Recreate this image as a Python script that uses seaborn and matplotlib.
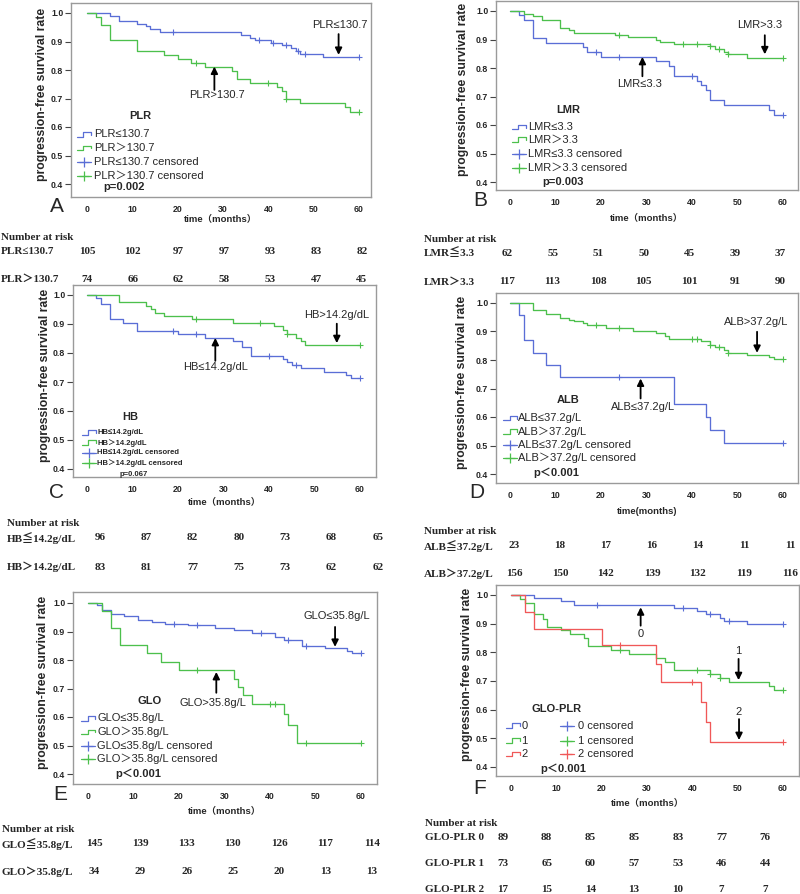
import numpy as np
import pandas as pd
import matplotlib
matplotlib.use("Agg")
import matplotlib.pyplot as plt
import seaborn as sns

# ---- survival curves: event times, survival after event, censor times ----
# A  PLR
plr_lo_t = [5, 7, 11, 13, 14, 16, 34, 36, 37, 40.5, 43, 45, 46, 47, 52]
plr_lo_s = [0.990, 0.973, 0.962, 0.953, 0.944, 0.933, 0.924, 0.914, 0.904, 0.895, 0.886, 0.876, 0.867, 0.856, 0.844]
plr_lo_c = [19, 38, 41, 44, 46.5, 48, 60]
plr_hi_t = [2, 3, 5, 11, 17, 20, 23, 26, 32, 33, 36, 42, 43, 44, 47, 57, 58]
plr_hi_s = [0.986, 0.959, 0.905, 0.865, 0.851, 0.838, 0.824, 0.811, 0.797, 0.770, 0.756, 0.742, 0.728, 0.700, 0.684, 0.669, 0.654]
plr_hi_c = [24, 40, 44, 60]
# B  LMR
lmr_lo_t = [2, 3, 5, 8, 16, 17, 20, 32, 35, 36, 41, 42, 43, 44, 47, 57, 58]
lmr_lo_s = [0.985, 0.970, 0.905, 0.889, 0.872, 0.856, 0.839, 0.823, 0.807, 0.771, 0.755, 0.739, 0.722, 0.687, 0.670, 0.652, 0.635]
lmr_lo_c = [19, 24, 40, 60]
lmr_hi_t = [3, 5, 7, 11, 13, 14, 23, 26, 32, 33, 36, 44, 45, 47, 48, 52]
lmr_hi_s = [0.991, 0.983, 0.967, 0.942, 0.932, 0.924, 0.917, 0.909, 0.900, 0.891, 0.884, 0.876, 0.866, 0.857, 0.850, 0.836]
lmr_hi_c = [24, 38, 41, 44, 46, 48, 60]
# C  HB
hb_lo_t = [2, 3, 5, 8, 11, 20, 26, 32, 34, 36, 43, 44, 45, 47, 52, 57, 58]
hb_lo_s = [0.990, 0.969, 0.916, 0.905, 0.875, 0.864, 0.853, 0.842, 0.822, 0.789, 0.779, 0.768, 0.758, 0.748, 0.736, 0.725, 0.713]
hb_lo_c = [19, 24, 40, 46, 60]
hb_hi_t = [7, 13, 14, 15, 17, 23, 32, 41, 43, 44, 46, 47, 48]
hb_hi_s = [0.976, 0.963, 0.951, 0.939, 0.927, 0.916, 0.904, 0.892, 0.879, 0.866, 0.853, 0.841, 0.828]
hb_hi_c = [24, 38, 44, 60]
# D  ALB
alb_lo_t = [2, 3, 5, 8, 11, 36, 43, 44, 47]
alb_lo_s = [0.957, 0.870, 0.826, 0.783, 0.739, 0.647, 0.601, 0.555, 0.508]
alb_lo_c = [24, 60]
alb_hi_t = [5, 8, 11, 13, 14, 16, 17, 21, 27, 32, 34, 35, 42, 44, 45, 47, 48, 52, 57, 58]
alb_hi_s = [0.974, 0.962, 0.949, 0.942, 0.936, 0.929, 0.922, 0.912, 0.902, 0.893, 0.884, 0.874, 0.865, 0.852, 0.846, 0.834, 0.823, 0.817, 0.810, 0.803]
alb_hi_c = [19, 24, 40, 41, 44, 46, 48, 60]
# E  GLO
glo_lo_t = [2, 3, 5, 8, 11, 14, 17, 22, 28, 32, 36, 41, 43, 47, 52, 57, 58]
glo_lo_s = [0.993, 0.977, 0.963, 0.956, 0.942, 0.934, 0.925, 0.922, 0.914, 0.907, 0.893, 0.881, 0.869, 0.850, 0.843, 0.831, 0.825]
glo_lo_c = [19, 24, 38, 44, 48, 60]
glo_hi_t = [3, 5, 7, 13, 16, 20, 32, 33, 34, 36, 43, 44, 46]
glo_hi_s = [0.971, 0.912, 0.853, 0.824, 0.794, 0.765, 0.735, 0.706, 0.676, 0.647, 0.610, 0.573, 0.508]
glo_hi_c = [24, 40, 41, 48, 60]
# F  GLO-PLR
g0_t = [5, 11, 14, 36, 41, 43, 46, 47, 52]
g0_s = [0.989, 0.978, 0.966, 0.955, 0.944, 0.933, 0.921, 0.910, 0.899]
g0_c = [19, 38, 44, 48, 60]
g1_t = [2, 3, 5, 7, 8, 11, 13, 16, 17, 22, 26, 32, 34, 36, 44, 46, 48, 57, 58]
g1_s = [0.986, 0.973, 0.932, 0.918, 0.890, 0.877, 0.863, 0.849, 0.822, 0.808, 0.795, 0.781, 0.767, 0.740, 0.726, 0.712, 0.698, 0.683, 0.667]
g1_c = [24, 41, 44, 46, 60]
g2_t = [3, 5, 20, 32, 33, 42, 43, 44]
g2_s = [0.941, 0.882, 0.824, 0.760, 0.697, 0.627, 0.557, 0.488]
g2_c = [24, 40, 60]

# ---- number at risk ----
risk_a = [[105, 102, 97, 97, 93, 83, 82], [74, 66, 62, 58, 53, 47, 45]]
risk_b = [[62, 55, 51, 50, 45, 39, 37], [117, 113, 108, 105, 101, 91, 90]]
risk_c = [[96, 87, 82, 80, 73, 68, 65], [83, 81, 77, 75, 73, 62, 62]]
risk_d = [[23, 18, 17, 16, 14, 11, 11], [156, 150, 142, 139, 132, 119, 116]]
risk_e = [[145, 139, 133, 130, 126, 117, 114], [34, 29, 26, 25, 20, 13, 13]]
risk_f = [[89, 88, 85, 85, 83, 77, 76], [73, 65, 60, 57, 53, 46, 44], [17, 15, 14, 13, 10, 7, 7]]

x_ticks = [0, 10, 20, 30, 40, 50, 60]
y_ticks = [0.4, 0.5, 0.6, 0.7, 0.8, 0.9, 1.0]

sns.set_style("white")
SANS = ['Liberation Sans', 'Noto Sans CJK SC', 'DejaVu Sans']
SERIF = ['Liberation Serif', 'Noto Sans CJK SC', 'DejaVu Serif']
plt.rcParams['font.family'] = SANS

BLUE = '#5a6ed6'
GREEN = '#4cc04c'
RED = '#f05858'

W, H = 800, 894
fig = plt.figure(figsize=(8, 8.94), dpi=100)
fig.patch.set_facecolor('white')


def px_axes(box, xt, yt):
    L, T, R, B = box
    ax = fig.add_axes([L / W, 1 - B / H, (R - L) / W, (B - T) / H])
    kx = (xt[1] - xt[0]) / 60
    ax.set_xlim(-(xt[0] - L) / kx, 60 + (R - xt[1]) / kx)
    ky = (yt[1] - yt[0]) / 0.6
    ax.set_ylim(0.4 - (B - yt[1]) / ky, 1.0 + (yt[0] - T) / ky)
    return ax


def km_curve(ax, t, s, c, col):
    df = pd.DataFrame({'time': [0] + list(t) + [60], 'surv': [1.0] + list(s) + [s[-1]]})
    sns.lineplot(data=df, x='time', y='surv', drawstyle='steps-post', color=col,
                 lw=0.95, ax=ax, estimator=None, sort=False, legend=False)
    idx = np.searchsorted(t, c, side='right')
    cy = np.concatenate([[1.0], s])[idx]
    sns.scatterplot(x=c, y=cy, marker='+', s=14, color=col, linewidth=0.8,
                    ax=ax, legend=False, zorder=3)


def legend_entry(ax, x0, y, col, kind, w=3.1):
    if kind == 'line':
        ax.plot([x0, x0 + 0.45 * w, x0 + 0.45 * w, x0 + w, x0 + w],
                [y - 0.008, y - 0.008, y + 0.008, y + 0.008, y - 0.002], color=col, lw=0.9)
    else:
        ax.plot([x0, x0 + w], [y, y], color=col, lw=0.9)
        ax.plot([x0 + w / 2], [y], marker='+', ms=7, mew=0.9, color=col)


panels = [
    dict(box=(71, 3, 371, 197), xt=(87, 359), yt=(13, 184), ylo=29, xlo=23, letter=('A', 57, 207),
         xlabel='time（months）',
         curves=[(plr_lo_t, plr_lo_s, plr_lo_c, BLUE), (plr_hi_t, plr_hi_s, plr_hi_c, GREEN)],
         arrows=[('PLR≤130.7', (55.8, 0.959), (55.5, 0.926), (55.5, 0.853)),
                 ('PLR>130.7', (28.6, 0.713), (28.1, 0.730), (28.1, 0.812))],
         title=('PLR', 11.7, 0.637), p=('p=0.002', 8.1, 0.39), fs=8, ix=-2.2, tx=1.5,
         rows=[0.574, 0.527, 0.478, 0.429],
         labels=['PLR≤130.7', 'PLR＞130.7', 'PLR≤130.7 censored', 'PLR＞130.7 censored'],
         risk=risk_a, rlab=['PLR≤130.7', 'PLR＞130.7'], rx=1, rhy=238, rys=[252, 279], rx0=87, rdx=45.8),
    dict(box=(496, 1, 798, 190), xt=(510, 783), yt=(11, 182), ylo=33, xlo=29, letter=('B', 480, 200),
         xlabel='time（months）',
         curves=[(lmr_lo_t, lmr_lo_s, lmr_lo_c, BLUE), (lmr_hi_t, lmr_hi_s, lmr_hi_c, GREEN)],
         arrows=[('LMR>3.3', (54.9, 0.95), (56, 0.915), (56, 0.848)),
                 ('LMR≤3.3', (28.5, 0.745), (29.1, 0.771), (29.1, 0.839))],
         title=('LMR', 12.8, 0.651), p=('p=0.003', 11.7, 0.40), fs=8, ix=0.4, tx=3.9,
         rows=[0.593, 0.549, 0.497, 0.449],
         labels=['LMR≤3.3', 'LMR＞3.3', 'LMR≤3.3 censored', 'LMR＞3.3 censored'],
         risk=risk_b, rlab=['LMR≦3.3', 'LMR＞3.3'], rx=424, rhy=239, rys=[253, 282], rx0=507, rdx=45.6),
    dict(box=(73, 285, 376, 477), xt=(87, 360), yt=(295, 469), ylo=28, xlo=26, letter=('C', 56, 493),
         xlabel='time（months）',
         curves=[(hb_lo_t, hb_lo_s, hb_lo_c, BLUE), (hb_hi_t, hb_hi_s, hb_hi_c, GREEN)],
         arrows=[('HB>14.2g/dL', (54.9, 0.93), (54.9, 0.901), (54.9, 0.834)),
                 ('HB≤14.2g/dL', (28.2, 0.75), (28.2, 0.773), (28.2, 0.852))],
         title=('HB', 9.4, 0.581), p=('p=0.067', 10.2, 0.38), fs=5.5, ix=-1.2, tx=2.2,
         rows=[0.526, 0.491, 0.456, 0.421],
         labels=['HB≤14.2g/dL', 'HB＞14.2g/dL', 'HB≤14.2g/dL censored', 'HB＞14.2g/dL censored'],
         risk=risk_c, rlab=['HB≦14.2g/dL', 'HB＞14.2g/dL'], rx=7, rhy=523, rys=[538, 567], rx0=100, rdx=46.3),
    dict(box=(496, 293, 798, 483), xt=(510, 783), yt=(303, 474), ylo=34, xlo=29, letter=('D', 477, 492),
         xlabel='time(months)',
         curves=[(alb_lo_t, alb_lo_s, alb_lo_c, BLUE), (alb_hi_t, alb_hi_s, alb_hi_c, GREEN)],
         arrows=[('ALB>37.2g/L', (54.1, 0.934), (54.3, 0.899), (54.3, 0.825)),
                 ('ALB≤37.2g/L', (29.3, 0.636), (28.7, 0.665), (28.7, 0.735))],
         title=('ALB', 12.8, 0.66), p=('p＜0.001', 10.2, 0.403), fs=8, ix=-1.5, tx=1.7,
         rows=[0.596, 0.549, 0.502, 0.456],
         labels=['ALB≤37.2g/L', 'ALB＞37.2g/L', 'ALB≤37.2g/L censored', 'ALB＞37.2g/L censored'],
         risk=risk_d, rlab=['ALB≦37.2g/L', 'ALB＞37.2g/L'], rx=424, rhy=532, rys=[546, 574], rx0=514, rdx=46),
    dict(box=(73, 592, 377, 784), xt=(88, 361), yt=(603, 774), ylo=30, xlo=28, letter=('E', 60, 795),
         xlabel='time（months）',
         curves=[(glo_lo_t, glo_lo_s, glo_lo_c, BLUE), (glo_hi_t, glo_hi_s, glo_hi_c, GREEN)],
         arrows=[('GLO≤35.8g/L', (54.7, 0.953), (54.3, 0.916), (54.3, 0.846)),
                 ('GLO>35.8g/L', (27.5, 0.648), (28.2, 0.685), (28.2, 0.758))],
         title=('GLO', 13.6, 0.657), p=('p＜0.001', 11, 0.40), fs=8, ix=-1.5, tx=2.0,
         rows=[0.595, 0.548, 0.499, 0.452],
         labels=['GLO≤35.8g/L', 'GLO＞35.8g/L', 'GLO≤35.8g/L censored', 'GLO＞35.8g/L censored'],
         risk=risk_e, rlab=['GLO≦35.8g/L', 'GLO＞35.8g/L'], rx=2, rhy=830, rys=[844, 872], rx0=94, rdx=46.3),
    dict(box=(496, 585, 799, 776), xt=(511, 783), yt=(595, 767), ylo=29, xlo=28, letter=('F', 480, 788),
         xlabel='time（months）',
         curves=[(g0_t, g0_s, g0_c, BLUE), (g1_t, g1_s, g1_c, GREEN), (g2_t, g2_s, g2_c, RED)],
         arrows=[('0', (28.6, 0.864), (28.6, 0.893), (28.6, 0.957)),
                 ('1', (50.2, 0.806), (50.2, 0.777), (50.2, 0.703)),
                 ('2', (50.3, 0.591), (50.3, 0.567), (50.3, 0.494))],
         title=('GLO-PLR', 10.1, 0.602), p=('p＜0.001', 11.5, 0.395), fs=8, ix=-1.1, tx=2.3,
         rows=[0.544, 0.492, 0.445], labels=['0', '1', '2'],
         risk=risk_f, rlab=['GLO-PLR 0', 'GLO-PLR 1', 'GLO-PLR 2'], rx=425, rhy=823,
         rys=[837, 863, 890], rx0=503, rdx=43.7),
]

for P in panels:
    ax = px_axes(P['box'], P['xt'], P['yt'])
    L, T, R, B = P['box']
    for t, s, c, col in P['curves']:
        km_curve(ax, t, s, c, col)

    ax.set_xticks(x_ticks)
    ax.set_xticklabels([str(v) for v in x_ticks], fontsize=6.3, fontweight='bold')
    ax.set_yticks(y_ticks)
    ax.set_yticklabels([f'{v:.1f}' for v in y_ticks], fontsize=6.3, fontweight='bold')
    ax.tick_params(axis='y', left=True, length=4, width=0.8, color='#444444', pad=1.5)
    ax.tick_params(axis='x', bottom=False, length=0, pad=6)
    for sp in ax.spines.values():
        sp.set_color('#9a9a9a')
        sp.set_linewidth(1.0)
    ax.set_ylabel('progression-free survival rate', fontsize=8.8, fontweight='bold')
    ax.yaxis.set_label_coords(-(P['ylo'] - 6) / (R - L), 0.53)
    ax.set_xlabel(P['xlabel'], fontsize=6.8, fontweight='bold', family=SANS)
    ax.xaxis.set_label_coords(0.5, -(P['xlo'] - 5) / (B - T))

    for txt, txy, tail, head in P['arrows']:
        ax.annotate('', xy=head, xytext=tail,
                    arrowprops=dict(arrowstyle='-|>', color='black', lw=1.3, mutation_scale=10,
                                    shrinkA=0, shrinkB=0))
        ax.text(txy[0], txy[1], txt, ha='center', va='center', fontsize=8, family=SANS)

    name, tx_, ty_ = P['title']
    ax.text(tx_, ty_, name, ha='center', va='center', fontsize=8, fontweight='bold')
    pt, px_, py_ = P['p']
    ax.text(px_, py_, pt, ha='center', va='center', fontsize=min(P['fs'], 8),
            fontweight='bold', family=SANS)

    fs = P['fs']
    wt = 'bold' if fs < 8 else 'normal'
    cols = [col for _, _, _, col in P['curves']]
    if len(cols) == 2:
        kinds = [(cols[0], 'line'), (cols[1], 'line'), (cols[0], 'cens'), (cols[1], 'cens')]
        for (col, kind), lab, y in zip(kinds, P['labels'], P['rows']):
            legend_entry(ax, P['ix'], y, col, kind)
            ax.text(P['tx'], y, lab, ha='left', va='center', fontsize=fs, fontweight=wt, family=SANS)
    else:
        for col, lab, y in zip(cols, P['labels'], P['rows']):
            legend_entry(ax, P['ix'], y, col, 'line')
            ax.text(P['tx'], y, lab, ha='left', va='center', fontsize=fs, family=SANS)
            legend_entry(ax, 10.8, y, col, 'cens')
            ax.text(14.8, y, lab + ' censored', ha='left', va='center', fontsize=fs, family=SANS)

    let, lx, ly = P['letter']
    fig.text(lx / W, 1 - ly / H, let, ha='center', va='center', fontsize=15)

    # number at risk table
    fig.text(P['rx'] / W, 1 - P['rhy'] / H, 'Number at risk', ha='left', va='center',
             fontsize=8, fontweight='bold', family=SERIF)
    for lab, vals, ry in zip(P['rlab'], P['risk'], P['rys']):
        fig.text(P['rx'] / W, 1 - ry / H, lab, ha='left', va='center',
                 fontsize=8, fontweight='bold', family=SERIF)
        for i, v in enumerate(vals):
            fig.text((P['rx0'] + i * P['rdx']) / W, 1 - ry / H, str(v), ha='center', va='center',
                     fontsize=8, fontweight='bold', family=SERIF)

fig.savefig('out.png', dpi=100, facecolor='white')
